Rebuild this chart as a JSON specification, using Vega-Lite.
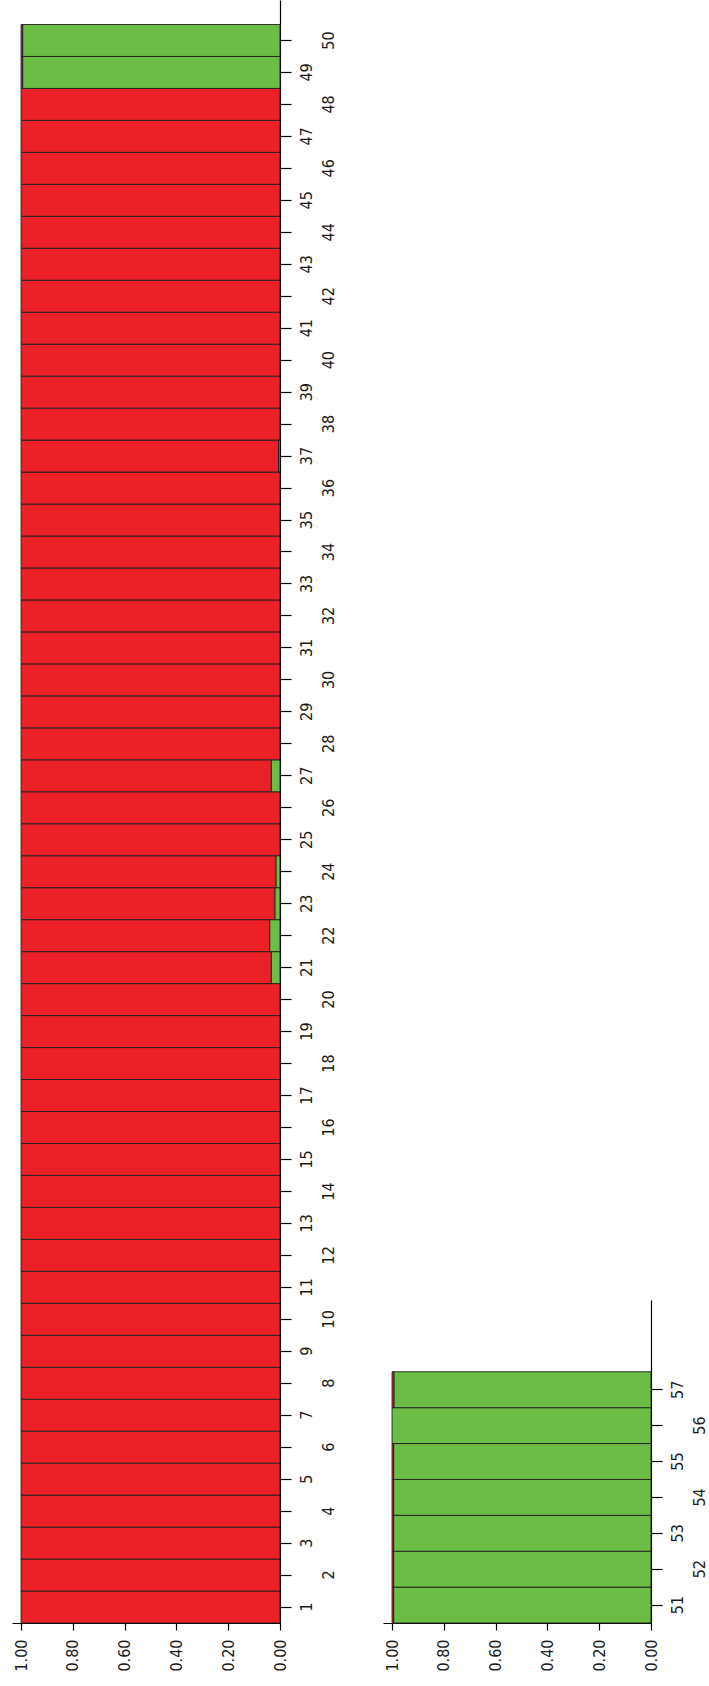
{
  "$schema": "https://vega.github.io/schema/vega-lite/v6.json",
  "padding": {"left": 12, "top": 0, "right": 0, "bottom": 0},
  "background": "white",
  "config": {
    "view": {"stroke": null},
    "axis": {
      "labelFont": "DejaVu Sans Condensed, Liberation Sans, sans-serif",
      "labelFontSize": 16,
      "labelColor": "#1a1a1a",
      "domainColor": "#000000",
      "domainWidth": 1.2,
      "tickColor": "#000000",
      "tickWidth": 1.2,
      "grid": false,
      "title": null
    }
  },
  "datasets": {
    "ancestry": [
      {"ind": 1, "pop": 1, "k": 1, "q": 0}, {"ind": 1, "pop": 1, "k": 2, "q": 1},
      {"ind": 2, "pop": 1, "k": 1, "q": 0}, {"ind": 2, "pop": 1, "k": 2, "q": 1},
      {"ind": 3, "pop": 1, "k": 1, "q": 0}, {"ind": 3, "pop": 1, "k": 2, "q": 1},
      {"ind": 4, "pop": 1, "k": 1, "q": 0}, {"ind": 4, "pop": 1, "k": 2, "q": 1},
      {"ind": 5, "pop": 1, "k": 1, "q": 0}, {"ind": 5, "pop": 1, "k": 2, "q": 1},
      {"ind": 6, "pop": 1, "k": 1, "q": 0}, {"ind": 6, "pop": 1, "k": 2, "q": 1},
      {"ind": 7, "pop": 1, "k": 1, "q": 0}, {"ind": 7, "pop": 1, "k": 2, "q": 1},
      {"ind": 8, "pop": 1, "k": 1, "q": 0}, {"ind": 8, "pop": 1, "k": 2, "q": 1},
      {"ind": 9, "pop": 1, "k": 1, "q": 0}, {"ind": 9, "pop": 1, "k": 2, "q": 1},
      {"ind": 10, "pop": 1, "k": 1, "q": 0}, {"ind": 10, "pop": 1, "k": 2, "q": 1},
      {"ind": 11, "pop": 1, "k": 1, "q": 0}, {"ind": 11, "pop": 1, "k": 2, "q": 1},
      {"ind": 12, "pop": 1, "k": 1, "q": 0}, {"ind": 12, "pop": 1, "k": 2, "q": 1},
      {"ind": 13, "pop": 1, "k": 1, "q": 0}, {"ind": 13, "pop": 1, "k": 2, "q": 1},
      {"ind": 14, "pop": 1, "k": 1, "q": 0}, {"ind": 14, "pop": 1, "k": 2, "q": 1},
      {"ind": 15, "pop": 1, "k": 1, "q": 0}, {"ind": 15, "pop": 1, "k": 2, "q": 1},
      {"ind": 16, "pop": 1, "k": 1, "q": 0}, {"ind": 16, "pop": 1, "k": 2, "q": 1},
      {"ind": 17, "pop": 1, "k": 1, "q": 0}, {"ind": 17, "pop": 1, "k": 2, "q": 1},
      {"ind": 18, "pop": 1, "k": 1, "q": 0}, {"ind": 18, "pop": 1, "k": 2, "q": 1},
      {"ind": 19, "pop": 1, "k": 1, "q": 0}, {"ind": 19, "pop": 1, "k": 2, "q": 1},
      {"ind": 20, "pop": 1, "k": 1, "q": 0}, {"ind": 20, "pop": 1, "k": 2, "q": 1},
      {"ind": 21, "pop": 1, "k": 1, "q": 0.034}, {"ind": 21, "pop": 1, "k": 2, "q": 0.966},
      {"ind": 22, "pop": 1, "k": 1, "q": 0.040}, {"ind": 22, "pop": 1, "k": 2, "q": 0.960},
      {"ind": 23, "pop": 1, "k": 1, "q": 0.020}, {"ind": 23, "pop": 1, "k": 2, "q": 0.980},
      {"ind": 24, "pop": 1, "k": 1, "q": 0.016}, {"ind": 24, "pop": 1, "k": 2, "q": 0.984},
      {"ind": 25, "pop": 1, "k": 1, "q": 0}, {"ind": 25, "pop": 1, "k": 2, "q": 1},
      {"ind": 26, "pop": 1, "k": 1, "q": 0}, {"ind": 26, "pop": 1, "k": 2, "q": 1},
      {"ind": 27, "pop": 1, "k": 1, "q": 0.034}, {"ind": 27, "pop": 1, "k": 2, "q": 0.966},
      {"ind": 28, "pop": 1, "k": 1, "q": 0}, {"ind": 28, "pop": 1, "k": 2, "q": 1},
      {"ind": 29, "pop": 1, "k": 1, "q": 0}, {"ind": 29, "pop": 1, "k": 2, "q": 1},
      {"ind": 30, "pop": 1, "k": 1, "q": 0}, {"ind": 30, "pop": 1, "k": 2, "q": 1},
      {"ind": 31, "pop": 1, "k": 1, "q": 0}, {"ind": 31, "pop": 1, "k": 2, "q": 1},
      {"ind": 32, "pop": 1, "k": 1, "q": 0}, {"ind": 32, "pop": 1, "k": 2, "q": 1},
      {"ind": 33, "pop": 1, "k": 1, "q": 0}, {"ind": 33, "pop": 1, "k": 2, "q": 1},
      {"ind": 34, "pop": 1, "k": 1, "q": 0}, {"ind": 34, "pop": 1, "k": 2, "q": 1},
      {"ind": 35, "pop": 1, "k": 1, "q": 0}, {"ind": 35, "pop": 1, "k": 2, "q": 1},
      {"ind": 36, "pop": 1, "k": 1, "q": 0}, {"ind": 36, "pop": 1, "k": 2, "q": 1},
      {"ind": 37, "pop": 1, "k": 1, "q": 0.006}, {"ind": 37, "pop": 1, "k": 2, "q": 0.994},
      {"ind": 38, "pop": 1, "k": 1, "q": 0}, {"ind": 38, "pop": 1, "k": 2, "q": 1},
      {"ind": 39, "pop": 1, "k": 1, "q": 0}, {"ind": 39, "pop": 1, "k": 2, "q": 1},
      {"ind": 40, "pop": 1, "k": 1, "q": 0}, {"ind": 40, "pop": 1, "k": 2, "q": 1},
      {"ind": 41, "pop": 1, "k": 1, "q": 0}, {"ind": 41, "pop": 1, "k": 2, "q": 1},
      {"ind": 42, "pop": 1, "k": 1, "q": 0}, {"ind": 42, "pop": 1, "k": 2, "q": 1},
      {"ind": 43, "pop": 1, "k": 1, "q": 0}, {"ind": 43, "pop": 1, "k": 2, "q": 1},
      {"ind": 44, "pop": 1, "k": 1, "q": 0}, {"ind": 44, "pop": 1, "k": 2, "q": 1},
      {"ind": 45, "pop": 1, "k": 1, "q": 0}, {"ind": 45, "pop": 1, "k": 2, "q": 1},
      {"ind": 46, "pop": 1, "k": 1, "q": 0}, {"ind": 46, "pop": 1, "k": 2, "q": 1},
      {"ind": 47, "pop": 1, "k": 1, "q": 0}, {"ind": 47, "pop": 1, "k": 2, "q": 1},
      {"ind": 48, "pop": 1, "k": 1, "q": 0}, {"ind": 48, "pop": 1, "k": 2, "q": 1},
      {"ind": 49, "pop": 1, "k": 1, "q": 0.994}, {"ind": 49, "pop": 1, "k": 2, "q": 0.006},
      {"ind": 50, "pop": 1, "k": 1, "q": 0.994}, {"ind": 50, "pop": 1, "k": 2, "q": 0.006},
      {"ind": 51, "pop": 2, "k": 1, "q": 0.994}, {"ind": 51, "pop": 2, "k": 2, "q": 0.006},
      {"ind": 52, "pop": 2, "k": 1, "q": 0.994}, {"ind": 52, "pop": 2, "k": 2, "q": 0.006},
      {"ind": 53, "pop": 2, "k": 1, "q": 0.994}, {"ind": 53, "pop": 2, "k": 2, "q": 0.006},
      {"ind": 54, "pop": 2, "k": 1, "q": 0.994}, {"ind": 54, "pop": 2, "k": 2, "q": 0.006},
      {"ind": 55, "pop": 2, "k": 1, "q": 0.994}, {"ind": 55, "pop": 2, "k": 2, "q": 0.006},
      {"ind": 56, "pop": 2, "k": 1, "q": 1}, {"ind": 56, "pop": 2, "k": 2, "q": 0},
      {"ind": 57, "pop": 2, "k": 1, "q": 0.993}, {"ind": 57, "pop": 2, "k": 2, "q": 0.007}
    ]
  },
  "bounds": "flush",
  "spacing": 103,
  "hconcat": [
    {
      "width": 268,
      "height": 1623,
      "data": {"name": "ancestry"},
      "transform": [{"filter": "datum.pop == 1 && datum.q > 0"}],
      "mark": {"type": "bar", "stroke": "#1e1e1e", "strokeWidth": 0.9},
      "encoding": {
        "y": {
          "field": "ind", "type": "ordinal", "sort": "descending",
          "scale": {"paddingInner": 0, "paddingOuter": 0.383, "align": 1},
          "axis": {
            "orient": "right", "tickSize": 11, "labelAngle": 270,
            "labelAlign": "center", "labelBaseline": "middle",
            "labelPadding": {"condition": {"test": "datum.value % 2 == 1", "value": 15}, "value": 37},
            "labelOverlap": false, "labelBound": false
          }
        },
        "x": {
          "field": "q", "type": "quantitative", "stack": "zero",
          "scale": {"domain": [0, 1.035], "reverse": true, "nice": false},
          "axis": {
            "values": [0, 0.2, 0.4, 0.6, 0.8, 1], "format": ".2f",
            "labelAngle": 270, "labelAlign": "right", "labelBaseline": "middle",
            "tickSize": 7, "labelPadding": 9, "labelFlush": false, "labelOverlap": false
          }
        },
        "color": {"field": "k", "type": "nominal", "scale": {"domain": [1, 2], "range": ["#6BBD45", "#EC2127"]}, "legend": null},
        "order": {"field": "k", "type": "quantitative"}
      }
    },
    {
      "spacing": 0,
      "bounds": "flush",
      "vconcat": [
        {
          "width": 268,
          "height": 1300,
          "data": {"values": []},
          "mark": {"type": "rule", "opacity": 0},
          "encoding": {}
        },
        {
          "width": 268,
          "height": 323,
          "data": {"name": "ancestry"},
          "transform": [{"filter": "datum.pop == 2 && datum.q > 0"}],
          "mark": {"type": "bar", "stroke": "#1e1e1e", "strokeWidth": 0.9},
          "encoding": {
            "y": {
              "field": "ind", "type": "ordinal", "sort": "descending",
              "scale": {"paddingInner": 0, "paddingOuter": 1.547, "align": 1},
              "axis": {
                "orient": "right", "tickSize": 11, "labelAngle": 270,
                "labelAlign": "center", "labelBaseline": "middle",
                "labelPadding": {"condition": {"test": "datum.value % 2 == 1", "value": 15}, "value": 37},
                "labelOverlap": false, "labelBound": false
              }
            },
            "x": {
              "field": "q", "type": "quantitative", "stack": "zero",
              "scale": {"domain": [0, 1.035], "reverse": true, "nice": false},
              "axis": {
                "values": [0, 0.2, 0.4, 0.6, 0.8, 1], "format": ".2f",
                "labelAngle": 270, "labelAlign": "right", "labelBaseline": "middle",
                "tickSize": 7, "labelPadding": 9, "labelFlush": false, "labelOverlap": false
              }
            },
            "color": {"field": "k", "type": "nominal", "scale": {"domain": [1, 2], "range": ["#6BBD45", "#EC2127"]}, "legend": null},
            "order": {"field": "k", "type": "quantitative"}
          }
        }
      ]
    }
  ]
}
